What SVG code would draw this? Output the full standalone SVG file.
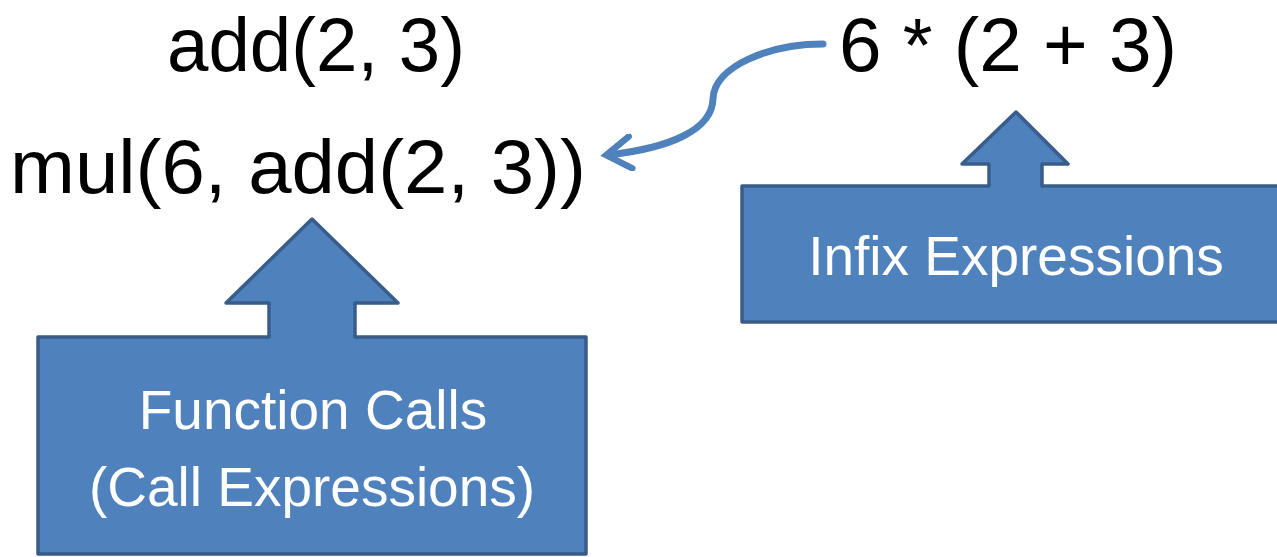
<svg xmlns="http://www.w3.org/2000/svg" width="1277" height="557" viewBox="0 0 1277 557">
<style>
.code{font-family:"Liberation Sans",Arial,sans-serif;font-size:76px;fill:#000;text-anchor:middle}
.callout{fill:#4F81BD;stroke:#385D8A;stroke-width:3.5;stroke-linejoin:round}
.label{font-family:"Liberation Sans",Arial,sans-serif;font-size:55px;fill:#fff;text-anchor:middle}
.conn{fill:none;stroke:#4F81BD;stroke-width:7;stroke-linecap:round}
</style>
<defs>
<marker id="chev" viewBox="0 0 20 20" refX="14" refY="10" markerWidth="5.4" markerHeight="5.4" markerUnits="strokeWidth" orient="auto">
<path d="M2 1.5 L15 10 L2 18.5" fill="none" stroke="#4F81BD" stroke-width="3.4" stroke-linecap="round" stroke-linejoin="miter"/>
</marker>
</defs>
<rect width="1277" height="557" fill="#fff"/>
<g id="expr-add">
<text class="code" x="316" y="71" textLength="298" lengthAdjust="spacingAndGlyphs">add(2, 3)</text>
</g>
<g id="expr-mul">
<text class="code" x="298" y="193" textLength="576" lengthAdjust="spacingAndGlyphs">mul(6, add(2, 3))</text>
</g>
<g id="expr-infix">
<text class="code" x="1008" y="71" textLength="338" lengthAdjust="spacingAndGlyphs">6 * (2 + 3)</text>
</g>
<g id="callout-function-calls">
<path class="callout" d="M38 337 L269 337 L269 303 L226 303 L312 219 L398 303 L355 303 L355 337 L586 337 L586 554 L38 554 Z"/>
<text class="label" x="313" y="429">Function Calls</text>
<text class="label" x="312" y="506">(Call Expressions)</text>
</g>
<g id="callout-infix">
<path class="callout" d="M742 186 L989 186 L989 164 L962 164 L1016 112 L1068 164 L1042 164 L1042 186 L1285 186 L1285 322 L742 322 Z"/>
<text class="label" x="1016" y="275">Infix Expressions</text>
</g>
<g id="connectors">
<path class="conn" d="M823 44 C770 44 714 66 713 99 C712 130 670 148 608 155" marker-end="url(#chev)"/>
</g>
</svg>
